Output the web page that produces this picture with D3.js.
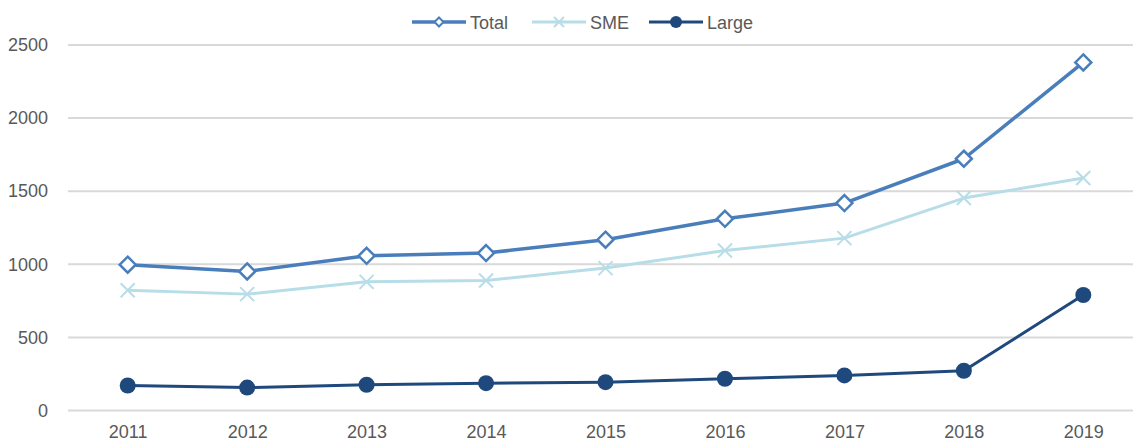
<!DOCTYPE html>
<html>
<head>
<meta charset="utf-8">
<script src="https://cdn.jsdelivr.net/npm/d3@7"></script>
<style>
  html, body { margin: 0; padding: 0; background: #fff; }
  svg { display: block; overflow: hidden; }
  text { font-family: "Liberation Sans", Arial, sans-serif; fill: #595959; }
</style>
</head>
<body>
<div id="chart"></div>
<script>
const years = ['2011', '2012', '2013', '2014', '2015', '2016', '2017', '2018', '2019'];
const total = [997, 951, 1058, 1077, 1168, 1311, 1419, 1722, 2381];
const sme = [823, 796, 880, 889, 974, 1094, 1179, 1453, 1590];
const large = [171, 157, 176, 187, 194, 217, 240, 272, 790];
const yTicks = [0, 500, 1000, 1500, 2000, 2500];

const width = 1133;
const height = 444;
const margin = { top: 45, left: 68, bottom: 34 };

const series = [
  { name: 'Total', values: total, color: '#4a7ebb', width: 3.5, marker: 'diamond' },
  { name: 'SME', values: sme, color: '#b7dde8', width: 3, marker: 'cross' },
  { name: 'Large', values: large, color: '#1f497d', width: 3, marker: 'circle' }
];

const svg = d3.select('#chart').append('svg')
  .attr('width', width)
  .attr('height', height);

const x = d3.scalePoint()
  .domain(years)
  .range([margin.left + 59.7, margin.left + 59.7 + 119.45 * (years.length - 1)]);

const y = d3.scaleLinear()
  .domain([0, 2500])
  .range([410.5, margin.top]);

// gridlines
svg.append('g')
  .selectAll('line')
  .data(yTicks)
  .join('line')
  .attr('x1', margin.left)
  .attr('x2', width)
  .attr('y1', d => y(d))
  .attr('y2', d => y(d))
  .attr('stroke', '#d9d9d9')
  .attr('stroke-width', 2);

// y axis labels
const yAxis = svg.append('g')
  .attr('transform', `translate(${margin.left - 4},0)`)
  .call(d3.axisLeft(y).tickValues(yTicks).tickFormat(d3.format('d')).tickSize(0).tickPadding(16));
yAxis.select('.domain').remove();
yAxis.selectAll('text')
  .style('font-size', '18px')
  .style('font-family', '"Liberation Sans", Arial, sans-serif')
  .attr('fill', '#595959');

// x axis labels
const xAxis = svg.append('g')
  .attr('transform', `translate(0,${y(0)})`)
  .call(d3.axisBottom(x).tickSize(0).tickPadding(15));
xAxis.select('.domain').remove();
xAxis.selectAll('text')
  .style('font-size', '18px')
  .style('font-family', '"Liberation Sans", Arial, sans-serif')
  .attr('fill', '#595959');

const line = d3.line()
  .x((d, i) => x(years[i]))
  .y(d => y(d));

function drawMarker(g, type, color) {
  if (type === 'diamond') {
    g.append('path')
      .attr('d', 'M0,-8L8,0L0,8L-8,0Z')
      .attr('fill', '#fff')
      .attr('stroke', color)
      .attr('stroke-width', 2.5);
  } else if (type === 'cross') {
    g.append('path')
      .attr('d', 'M-7,-7L7,7M-7,7L7,-7')
      .attr('stroke', color)
      .attr('stroke-width', 2);
  } else {
    g.append('circle')
      .attr('r', 8)
      .attr('fill', color);
  }
}

const plot = svg.append('g');
series.forEach(s => {
  plot.append('path')
    .datum(s.values)
    .attr('fill', 'none')
    .attr('stroke', s.color)
    .attr('stroke-width', s.width)
    .attr('stroke-linejoin', 'round')
    .attr('d', line);
  plot.append('g')
    .selectAll('g')
    .data(s.values)
    .join('g')
    .attr('transform', (d, i) => `translate(${x(years[i])},${y(d)})`)
    .each(function () { drawMarker(d3.select(this), s.marker, s.color); });
});

// Legend
const legendX = [412, 532, 649];
const legend = svg.append('g').attr('transform', 'translate(0,22)');
series.forEach((s, i) => {
  const g = legend.append('g').attr('transform', `translate(${legendX[i]},0)`);
  g.append('line')
    .attr('x1', 0).attr('x2', 54)
    .attr('stroke', s.color)
    .attr('stroke-width', s.width);
  const m = g.append('g').attr('transform', 'translate(27,0)');
  if (s.marker === 'diamond') {
    m.append('path').attr('d', 'M0,-4.5L4.5,0L0,4.5L-4.5,0Z')
      .attr('fill', '#fff').attr('stroke', s.color).attr('stroke-width', 2);
  } else if (s.marker === 'cross') {
    m.append('path').attr('d', 'M-5,-5L5,5M-5,5L5,-5')
      .attr('stroke', s.color).attr('stroke-width', 2);
  } else {
    m.append('circle').attr('r', 6).attr('fill', s.color);
  }
  g.append('text')
    .attr('x', 58)
    .attr('y', 7)
    .style('font-size', '18px')
    .text(s.name);
});
</script>
</body>
</html>
